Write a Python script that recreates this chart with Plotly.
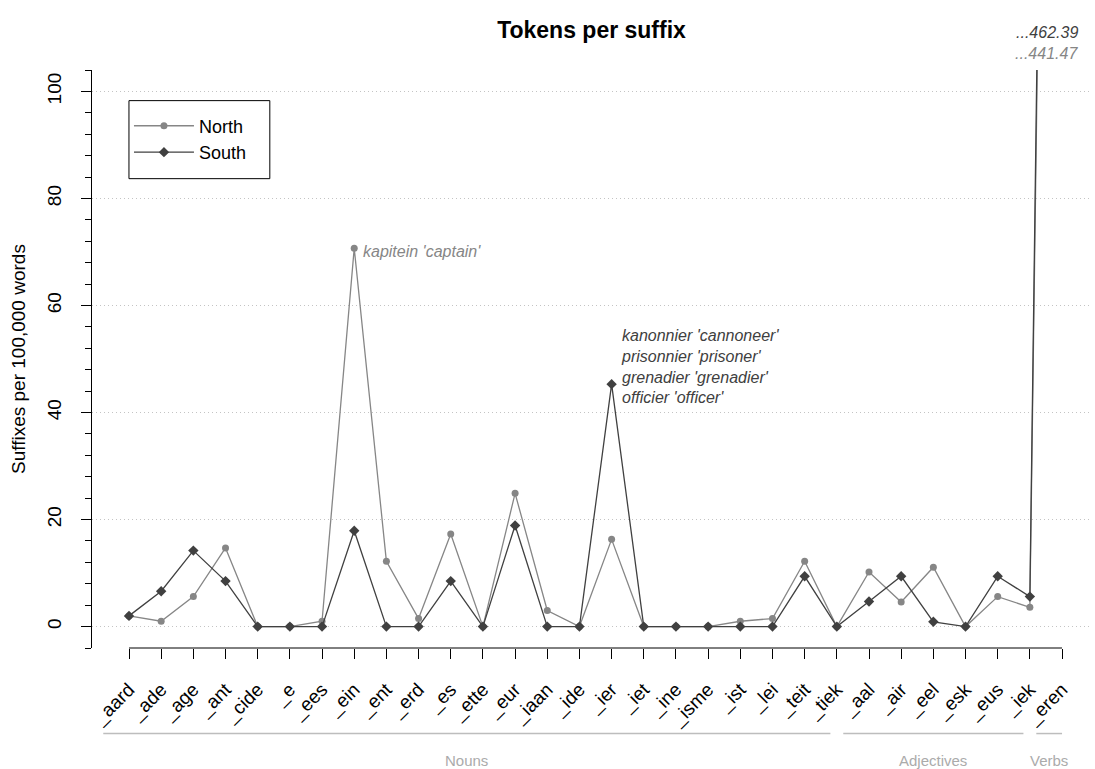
import plotly.graph_objects as go

categories = ["_aard", "_ade", "_age", "_ant", "_cide", "_e", "_ees", "_ein", "_ent", "_erd",
              "_es", "_ette", "_eur", "_iaan", "_ide", "_ier", "_iet", "_ine", "_isme", "_ist",
              "_lei", "_teit", "_tiek", "_aal", "_air", "_eel", "_esk", "_eus", "_iek", "_eren"]

north = [2.0, 1.0, 5.6, 14.7, 0.0, 0.0, 1.0, 70.7, 12.2, 1.5,
         17.3, 0.0, 24.9, 3.0, 0.0, 16.3, 0.0, 0.0, 0.0, 1.0,
         1.5, 12.2, 0.0, 10.2, 4.6, 11.1, 0.0, 5.6, 3.6, 441.47]

south = [2.0, 6.6, 14.2, 8.5, 0.0, 0.0, 0.0, 17.9, 0.0, 0.0,
         8.5, 0.0, 18.9, 0.0, 0.0, 45.3, 0.0, 0.0, 0.0, 0.0,
         0.0, 9.4, 0.0, 4.7, 9.4, 0.9, 0.0, 9.4, 5.6, 462.39]

groups = ["Nouns", "Adjectives", "Verbs"]
group_first = ["_aard", "_aal", "_eren"]
group_last = ["_tiek", "_iek", "_eren"]

y_ticks = [0, 20, 40, 60, 80, 100]

FONT = "Liberation Sans"
NORTH_C = "#868686"
SOUTH_C = "#404040"

x = list(range(1, len(categories) + 1))

fig = go.Figure()
fig.add_trace(go.Scatter(x=x, y=north, mode="lines+markers", name="North",
                         line=dict(color=NORTH_C, width=1.3),
                         marker=dict(symbol="circle", size=7, color=NORTH_C)))
fig.add_trace(go.Scatter(x=x, y=south, mode="lines+markers", name="South",
                         line=dict(color=SOUTH_C, width=1.3),
                         marker=dict(symbol="diamond", size=8, color=SOUTH_C)))

ann = []
i_ein = categories.index("_ein")
ann.append(dict(x=x[i_ein], y=north[i_ein], xref="x", yref="y", text="<i>kapitein 'captain'</i>",
                showarrow=False, xanchor="left", yanchor="middle", xshift=7, yshift=-3,
                font=dict(family=FONT, size=16, color=NORTH_C)))
i_ier = categories.index("_ier")
ann.append(dict(x=x[i_ier], y=south[i_ier], xref="x", yref="y",
                text="<i>kanonnier 'cannoneer'<br>prisonnier 'prisoner'<br>grenadier 'grenadier'<br>officier 'officer'</i>",
                showarrow=False, xanchor="left", yanchor="bottom", align="left", xshift=7, yshift=-24,
                font=dict(family=FONT, size=16, color=SOUTH_C)))
ann.append(dict(x=x[-1], y=1.065, xref="x", yref="paper", text="<i>...%.2f</i>" % south[-1],
                showarrow=False, xanchor="right", yanchor="middle", xshift=18,
                font=dict(family=FONT, size=16, color=SOUTH_C)))
ann.append(dict(x=x[-1], y=1.029, xref="x", yref="paper", text="<i>...%.2f</i>" % north[-1],
                showarrow=False, xanchor="right", yanchor="middle", xshift=18,
                font=dict(family=FONT, size=16, color=NORTH_C)))
ann.append(dict(x=0, y=0.5, xref="paper", yref="paper", text="Suffixes per 100,000 words",
                showarrow=False, textangle=-90, xanchor="center", yanchor="middle", xshift=-74,
                font=dict(family=FONT, size=19, color="black")))

shapes = []
shapes.append(dict(type="line", xref="x", yref="paper", x0=x[0], x1=x[-1], y0=0, y1=0,
                   line=dict(color="black", width=1)))
# legend frame
shapes.append(dict(type="rect", xref="paper", yref="paper", x0=0.037, x1=0.178, y0=0.812, y1=0.947,
                   line=dict(color="black", width=1), fillcolor="rgba(0,0,0,0)"))
for g, f, l in zip(groups, group_first, group_last):
    lo = categories.index(f) + 1 - 0.8
    hi = categories.index(l) + 1 - 0.2 if g != "Verbs" else categories.index(l) + 1
    shapes.append(dict(type="line", xref="x", yref="paper", x0=lo, x1=hi, y0=-0.148, y1=-0.148,
                       line=dict(color="#bdbdbd", width=1.5)))
    ann.append(dict(x=(lo + hi) / 2, y=-0.195, xref="x", yref="paper", text=g, showarrow=False,
                    xanchor="center", yanchor="middle",
                    font=dict(family=FONT, size=15, color="#ababab")))

fig.update_layout(
    width=1095, height=769,
    margin=dict(l=92, r=4, t=70, b=121, autoexpand=False),
    paper_bgcolor="white", plot_bgcolor="white",
    font=dict(family=FONT, size=18, color="black"),
    title=dict(text="<b>Tokens per suffix</b>", x=0.5, xref="paper", y=1 - 30 / 769, yanchor="middle",
               xanchor="center", font=dict(family=FONT, size=23, color="black")),
    showlegend=True,
    legend=dict(x=0.037, y=0.935, xanchor="left", yanchor="top", borderwidth=0,
                bgcolor="rgba(0,0,0,0)", font=dict(family=FONT, size=18, color="black"),
                itemwidth=60, tracegroupgap=0),
    annotations=ann, shapes=shapes,
)
fig.update_xaxes(range=[-0.15, 30.9], tickvals=x, ticktext=categories, tickangle=-45,
                 ticks="outside", ticklen=10, tickcolor="black", showline=False, showgrid=False,
                 zeroline=False, ticklabelstandoff=12,
                 tickfont=dict(family=FONT, size=19, color="black"))
fig.update_yaxes(range=[-4, 104], tickvals=y_ticks, tickangle=-90, ticks="outside", ticklen=10,
                 tickcolor="black", showline=True, linecolor="black", linewidth=1,
                 showgrid=True, gridcolor="#c4c4c4", griddash="1px,3px", gridwidth=1, zeroline=False,
                 ticklabelstandoff=12,
                 tickfont=dict(family=FONT, size=19, color="black"),
                 minor=dict(ticks="outside", ticklen=6, tickmode="linear", tick0=0, dtick=4,
                            tickcolor="black", showgrid=False))

fig.write_html("out.html", config={"displayModeBar": False},
               post_script="document.body.style.margin='0';document.body.style.overflow='hidden';")
